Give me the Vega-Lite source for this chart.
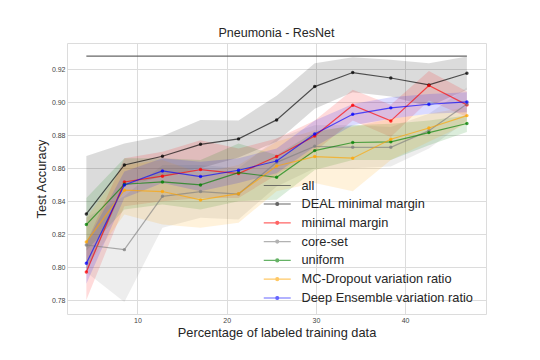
{
  "$schema": "https://vega.github.io/schema/vega-lite/v6.json",
  "width": 419,
  "height": 271,
  "autosize": "none",
  "padding": {"left": 67, "top": 43, "right": 54, "bottom": 46},
  "background": "white",
  "title": {"text": "Pneumonia - ResNet", "font": "Liberation Sans", "fontSize": 12.5, "fontWeight": "normal", "color": "#262626", "offset": 4},
  "config": {
    "view": {"stroke": "#dcdcdc", "strokeWidth": 1},
    "axis": {"domain": false, "ticks": false, "grid": true, "gridColor": "#dcdcdc", "gridWidth": 1, "labelOverlap": false, "labelFont": "Liberation Sans", "labelFontSize": 7, "labelColor": "#444", "titleFont": "Liberation Sans", "titleFontSize": 12.8, "titleFontWeight": "normal", "titleColor": "#262626"},
    "axisY": {"labelOverlap": false}
  },
  "datasets": {
    "runs": [
      {"method": "DEAL minimal margin", "x": 4.27, "mean": 0.8323, "lo": 0.797, "hi": 0.8675},
      {"method": "DEAL minimal margin", "x": 8.53, "mean": 0.862, "lo": 0.8493, "hi": 0.8750},
      {"method": "DEAL minimal margin", "x": 12.8, "mean": 0.8673, "lo": 0.855, "hi": 0.8795},
      {"method": "DEAL minimal margin", "x": 17.07, "mean": 0.8745, "lo": 0.860, "hi": 0.8893},
      {"method": "DEAL minimal margin", "x": 21.33, "mean": 0.8778, "lo": 0.8666, "hi": 0.889},
      {"method": "DEAL minimal margin", "x": 25.6, "mean": 0.8893, "lo": 0.876, "hi": 0.904},
      {"method": "DEAL minimal margin", "x": 29.87, "mean": 0.9095, "lo": 0.896, "hi": 0.9236},
      {"method": "DEAL minimal margin", "x": 34.13, "mean": 0.918, "lo": 0.906, "hi": 0.9273},
      {"method": "DEAL minimal margin", "x": 38.4, "mean": 0.9147, "lo": 0.9035, "hi": 0.9257},
      {"method": "DEAL minimal margin", "x": 42.67, "mean": 0.9105, "lo": 0.8975, "hi": 0.9236},
      {"method": "DEAL minimal margin", "x": 46.93, "mean": 0.9176, "lo": 0.9075, "hi": 0.9277},

      {"method": "minimal margin", "x": 4.27, "mean": 0.7972, "lo": 0.7802, "hi": 0.815},
      {"method": "minimal margin", "x": 8.53, "mean": 0.8517, "lo": 0.837, "hi": 0.866},
      {"method": "minimal margin", "x": 12.8, "mean": 0.8552, "lo": 0.840, "hi": 0.870},
      {"method": "minimal margin", "x": 17.07, "mean": 0.8592, "lo": 0.842, "hi": 0.877},
      {"method": "minimal margin", "x": 21.33, "mean": 0.8568, "lo": 0.842, "hi": 0.872},
      {"method": "minimal margin", "x": 25.6, "mean": 0.8671, "lo": 0.856, "hi": 0.878},
      {"method": "minimal margin", "x": 29.87, "mean": 0.8796, "lo": 0.870, "hi": 0.889},
      {"method": "minimal margin", "x": 34.13, "mean": 0.8982, "lo": 0.889, "hi": 0.9075},
      {"method": "minimal margin", "x": 38.4, "mean": 0.8887, "lo": 0.879, "hi": 0.8985},
      {"method": "minimal margin", "x": 42.67, "mean": 0.9101, "lo": 0.901, "hi": 0.919},
      {"method": "minimal margin", "x": 46.93, "mean": 0.8984, "lo": 0.891, "hi": 0.9065},

      {"method": "core-set", "x": 4.27, "mean": 0.8135, "lo": 0.797, "hi": 0.830},
      {"method": "core-set", "x": 8.53, "mean": 0.8107, "lo": 0.779, "hi": 0.843},
      {"method": "core-set", "x": 12.8, "mean": 0.843, "lo": 0.824, "hi": 0.862},
      {"method": "core-set", "x": 17.07, "mean": 0.8459, "lo": 0.830, "hi": 0.862},
      {"method": "core-set", "x": 21.33, "mean": 0.8444, "lo": 0.829, "hi": 0.860},
      {"method": "core-set", "x": 25.6, "mean": 0.8636, "lo": 0.849, "hi": 0.878},
      {"method": "core-set", "x": 29.87, "mean": 0.8733, "lo": 0.860, "hi": 0.886},
      {"method": "core-set", "x": 34.13, "mean": 0.8727, "lo": 0.860, "hi": 0.886},
      {"method": "core-set", "x": 38.4, "mean": 0.8727, "lo": 0.861, "hi": 0.885},
      {"method": "core-set", "x": 42.67, "mean": 0.8828, "lo": 0.872, "hi": 0.893},
      {"method": "core-set", "x": 46.93, "mean": 0.899, "lo": 0.889, "hi": 0.909},

      {"method": "uniform", "x": 4.27, "mean": 0.8259, "lo": 0.810, "hi": 0.842},
      {"method": "uniform", "x": 8.53, "mean": 0.8503, "lo": 0.835, "hi": 0.866},
      {"method": "uniform", "x": 12.8, "mean": 0.8517, "lo": 0.838, "hi": 0.866},
      {"method": "uniform", "x": 17.07, "mean": 0.8499, "lo": 0.835, "hi": 0.865},
      {"method": "uniform", "x": 21.33, "mean": 0.8574, "lo": 0.840, "hi": 0.875},
      {"method": "uniform", "x": 25.6, "mean": 0.8545, "lo": 0.841, "hi": 0.868},
      {"method": "uniform", "x": 29.87, "mean": 0.8707, "lo": 0.859, "hi": 0.882},
      {"method": "uniform", "x": 34.13, "mean": 0.8756, "lo": 0.865, "hi": 0.886},
      {"method": "uniform", "x": 38.4, "mean": 0.876, "lo": 0.865, "hi": 0.887},
      {"method": "uniform", "x": 42.67, "mean": 0.8816, "lo": 0.874, "hi": 0.889},
      {"method": "uniform", "x": 46.93, "mean": 0.8871, "lo": 0.882, "hi": 0.892},

      {"method": "MC-Dropout variation ratio", "x": 4.27, "mean": 0.8154, "lo": 0.800, "hi": 0.830},
      {"method": "MC-Dropout variation ratio", "x": 8.53, "mean": 0.8467, "lo": 0.832, "hi": 0.862},
      {"method": "MC-Dropout variation ratio", "x": 12.8, "mean": 0.8459, "lo": 0.826, "hi": 0.865},
      {"method": "MC-Dropout variation ratio", "x": 17.07, "mean": 0.8408, "lo": 0.824, "hi": 0.857},
      {"method": "MC-Dropout variation ratio", "x": 21.33, "mean": 0.8446, "lo": 0.827, "hi": 0.862},
      {"method": "MC-Dropout variation ratio", "x": 25.6, "mean": 0.8614, "lo": 0.846, "hi": 0.876},
      {"method": "MC-Dropout variation ratio", "x": 29.87, "mean": 0.8671, "lo": 0.851, "hi": 0.883},
      {"method": "MC-Dropout variation ratio", "x": 34.13, "mean": 0.8661, "lo": 0.846, "hi": 0.885},
      {"method": "MC-Dropout variation ratio", "x": 38.4, "mean": 0.8776, "lo": 0.865, "hi": 0.890},
      {"method": "MC-Dropout variation ratio", "x": 42.67, "mean": 0.8844, "lo": 0.876, "hi": 0.893},
      {"method": "MC-Dropout variation ratio", "x": 46.93, "mean": 0.8919, "lo": 0.887, "hi": 0.897},

      {"method": "Deep Ensemble variation ratio", "x": 4.27, "mean": 0.8024, "lo": 0.790, "hi": 0.815},
      {"method": "Deep Ensemble variation ratio", "x": 8.53, "mean": 0.8499, "lo": 0.842, "hi": 0.858},
      {"method": "Deep Ensemble variation ratio", "x": 12.8, "mean": 0.8584, "lo": 0.851, "hi": 0.866},
      {"method": "Deep Ensemble variation ratio", "x": 17.07, "mean": 0.855, "lo": 0.846, "hi": 0.864},
      {"method": "Deep Ensemble variation ratio", "x": 21.33, "mean": 0.8588, "lo": 0.851, "hi": 0.866},
      {"method": "Deep Ensemble variation ratio", "x": 25.6, "mean": 0.8644, "lo": 0.857, "hi": 0.872},
      {"method": "Deep Ensemble variation ratio", "x": 29.87, "mean": 0.8808, "lo": 0.873, "hi": 0.889},
      {"method": "Deep Ensemble variation ratio", "x": 34.13, "mean": 0.8927, "lo": 0.886, "hi": 0.899},
      {"method": "Deep Ensemble variation ratio", "x": 38.4, "mean": 0.8966, "lo": 0.890, "hi": 0.903},
      {"method": "Deep Ensemble variation ratio", "x": 42.67, "mean": 0.8988, "lo": 0.893, "hi": 0.905},
      {"method": "Deep Ensemble variation ratio", "x": 46.93, "mean": 0.9002, "lo": 0.894, "hi": 0.906}
    ],
    "full": [
      {"series": "all", "x": 4.27, "y": 0.928},
      {"series": "all", "x": 46.93, "y": 0.928}
    ]
  },
  "encoding": {
    "x": {"type": "quantitative", "scale": {"domain": [2.1, 49.07], "nice": false, "zero": false}, "axis": {"values": [10, 20, 30, 40], "title": "Percentage of labeled training data", "labelPadding": 2, "titlePadding": 3, "labelOverlap": false}},
    "y": {"type": "quantitative", "scale": {"domain": [0.7717, 0.9359], "nice": false, "zero": false}, "axis": {"values": [0.78, 0.80, 0.82, 0.84, 0.86, 0.88, 0.90, 0.92], "format": ".2f", "title": "Test Accuracy", "labelPadding": 2, "titlePadding": 3, "labelOverlap": false, "labelFlush": false}}
  },
  "layer": [
    {
      "data": {"name": "runs"},
      "mark": {"type": "area", "opacity": 0.14},
      "encoding": {
        "x": {"field": "x"},
        "y": {"field": "lo"},
        "y2": {"field": "hi"},
        "color": {"field": "method", "type": "nominal"}
      }
    },
    {
      "data": {"name": "runs"},
      "mark": {"type": "line", "strokeWidth": 1.2, "opacity": 0.65, "point": {"filled": true, "size": 12, "opacity": 0.75}},
      "encoding": {
        "x": {"field": "x"},
        "y": {"field": "mean"},
        "color": {
          "field": "method", "type": "nominal",
          "scale": {
            "domain": ["DEAL minimal margin", "minimal margin", "core-set", "uniform", "MC-Dropout variation ratio", "Deep Ensemble variation ratio"],
            "range": ["#000000", "#ff0000", "#808080", "#008000", "#ffa500", "#0000ff"]
          },
          "legend": {
            "orient": "none", "legendX": 202.75, "legendY": 153.5, "title": null, "padding": 0, "offset": 0,
            "symbolType": "M-2,0H2M-0.22,0A0.22,0.22 0 1,0 0.22,0A0.22,0.22 0 1,0 -0.22,0Z",
            "symbolSize": 182, "symbolStrokeWidth": 1.2, "symbolOpacity": 0.6,
            "labelFont": "Liberation Sans", "labelFontSize": 12.8, "labelColor": "#262626", "labelOffset": 16.75, "rowPadding": 3.8, "labelLimit": 400,
            "encode": {"symbols": {"update": {"fill": {"scale": "color", "field": "value"}, "stroke": {"scale": "color", "field": "value"}}}}
          }
        }
      }
    },
    {
      "data": {"name": "full"},
      "mark": {"type": "line", "strokeWidth": 1.2, "color": "#555555", "opacity": 0.9},
      "encoding": {
        "x": {"field": "x"},
        "y": {"field": "y"},
        "strokeDash": {
          "field": "series", "type": "nominal",
          "scale": {"domain": ["all"], "range": [[1, 0]]},
          "legend": {
            "orient": "none", "legendX": 202.75, "legendY": 135, "title": null, "padding": 0, "offset": 0,
            "symbolType": "M-2,0H2", "symbolSize": 182, "symbolStrokeWidth": 1.2, "symbolStrokeColor": "#555555", "symbolOpacity": 0.8,
            "labelFont": "Liberation Sans", "labelFontSize": 12.8, "labelColor": "#262626", "labelOffset": 16.75, "labelLimit": 400
          }
        }
      }
    }
  ]
}
